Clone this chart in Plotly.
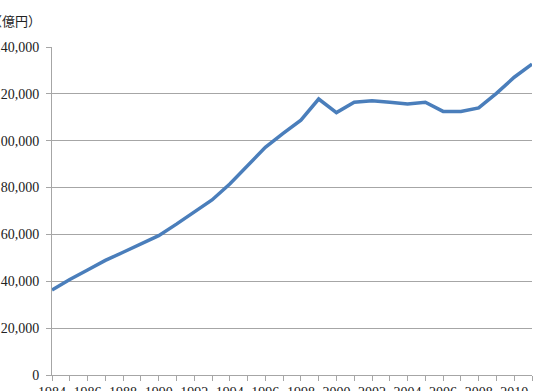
import plotly.graph_objects as go

years = list(range(1984, 2012))
values = [36.3, 40.8, 44.8, 48.9, 52.4, 56.0, 59.5, 64.4, 69.7, 74.7,
          81.5, 89.2, 97.2, 103.1, 108.8, 117.8, 112.0, 116.4, 117.1, 116.4,
          115.7, 116.4, 112.5, 112.5, 114.0, 120.2, 127.1, 132.7]
values = [v * 1000 for v in values]
y_ticks = [0, 20000, 40000, 60000, 80000, 100000, 120000, 140000]
y_labels = ["0", "20,000", "40,000", "60,000", "80,000", "100,000", "120,000", "140,000"]
x_labels = [str(y) if y % 2 == 0 else "" for y in years]
unit_label = "（億円）"

W, H = 540, 391
L, R, T, B = 52, 8, 47, 16
pw = W - L - R

fig = go.Figure()
fig.add_trace(go.Scatter(x=years, y=values, mode="lines",
                         line=dict(color="#4a7ebb", width=3.5), hoverinfo="skip"))

grid = "#a6a6a6"
serif = "Liberation Serif"
fig.update_layout(
    width=W, height=H,
    margin=dict(l=L, r=R, t=T, b=B, pad=0, autoexpand=False),
    paper_bgcolor="white", plot_bgcolor="white",
    showlegend=False,
    font=dict(family=serif, size=14, color="#222222"),
    xaxis=dict(range=[1984, 2011], tickmode="array", tickvals=years, ticktext=x_labels,
               ticks="outside", ticklen=5, tickcolor=grid, tickwidth=1,
               showline=True, linecolor=grid, linewidth=1, showgrid=False,
               zeroline=False, tickangle=0, automargin=False,
               ticklabelstandoff=-1,
               tickfont=dict(family=serif, size=14)),
    yaxis=dict(range=[0, 140000], tickmode="array", tickvals=y_ticks, ticktext=y_labels,
               ticks="outside", ticklen=5, tickcolor=grid, tickwidth=1,
               showline=True, linecolor=grid, linewidth=1,
               showgrid=True, gridcolor=grid, gridwidth=1, zeroline=False,
               ticklabelstandoff=4, automargin=False,
               tickfont=dict(family=serif, size=14)),
)
fig.add_annotation(text=unit_label, xref="paper", yref="paper",
                   x=(-13 - L) / pw, y=1 + (T - 21) / (H - T - B),
                   xanchor="left", yanchor="middle", showarrow=False,
                   font=dict(family="Noto Sans CJK JP", size=13, color="#222222"))
fig.write_html("out.html")
